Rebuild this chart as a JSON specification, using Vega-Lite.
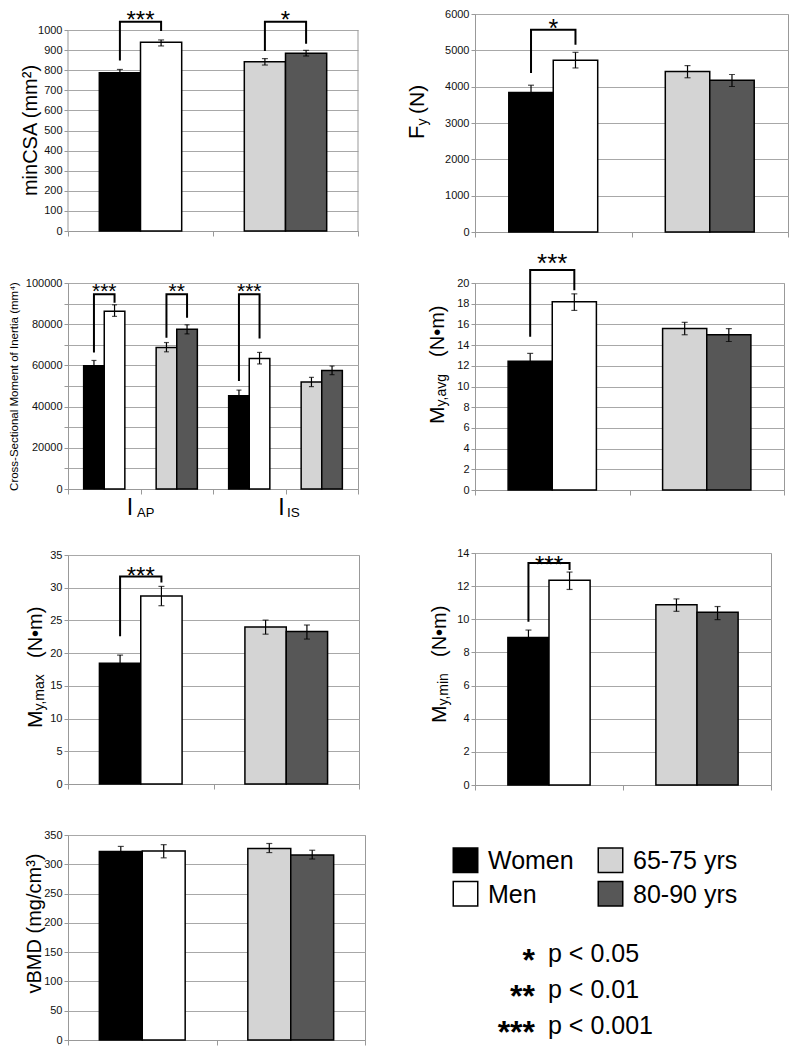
{
  "$schema": "https://vega.github.io/schema/vega-lite/v6.json",
  "padding": {"left": 7, "top": 7, "right": 0, "bottom": 0},
  "config": {
    "font": "Liberation Sans",
    "numberFormat": "d",
    "view": {"stroke": "#999999", "strokeWidth": 1},
    "axisY": {"grid": true, "gridColor": "#a8a8a8", "domainColor": "#999999", "tickColor": "#999999", "tickSize": 4, "tickCount": 30, "labelFontSize": 11, "labelColor": "#111111", "labelPadding": 2, "labelOverlap": false, "titleFontWeight": "normal", "titleColor": "#000000", "labelFont": "Liberation Sans", "titleFont": "Liberation Sans"},
    "axisX": {"labels": false, "ticks": true, "tickBand": "extent", "tickSize": 5, "tickColor": "#999999", "domainColor": "#999999", "grid": false},
    "text": {"font": "Liberation Sans", "color": "#000000"}
  },
  "datasets": {
    "bars": [
      {"panel": "minCSA", "cluster": "Sex", "level": "Women", "mean": 788, "lo": 772, "hi": 804},
      {"panel": "minCSA", "cluster": "Sex", "level": "Men", "mean": 940, "lo": 921, "hi": 951},
      {"panel": "minCSA", "cluster": "Age", "level": "65-75 yrs", "mean": 842, "lo": 826, "hi": 858},
      {"panel": "minCSA", "cluster": "Age", "level": "80-90 yrs", "mean": 885, "lo": 871, "hi": 899},
      {"panel": "Fy", "cluster": "Sex", "level": "Women", "mean": 3840, "lo": 3650, "hi": 4040},
      {"panel": "Fy", "cluster": "Sex", "level": "Men", "mean": 4730, "lo": 4515, "hi": 4945},
      {"panel": "Fy", "cluster": "Age", "level": "65-75 yrs", "mean": 4420, "lo": 4245, "hi": 4580},
      {"panel": "Fy", "cluster": "Age", "level": "80-90 yrs", "mean": 4180, "lo": 4005, "hi": 4335},
      {"panel": "I", "cluster": "IAP-Sex", "level": "Women", "mean": 59800, "lo": 57200, "hi": 62400},
      {"panel": "I", "cluster": "IAP-Sex", "level": "Men", "mean": 86300, "lo": 83800, "hi": 89400},
      {"panel": "I", "cluster": "IAP-Age", "level": "65-75 yrs", "mean": 68700, "lo": 66600, "hi": 71100},
      {"panel": "I", "cluster": "IAP-Age", "level": "80-90 yrs", "mean": 77500, "lo": 75300, "hi": 79700},
      {"panel": "I", "cluster": "IIS-Sex", "level": "Women", "mean": 45300, "lo": 42900, "hi": 48000},
      {"panel": "I", "cluster": "IIS-Sex", "level": "Men", "mean": 63400, "lo": 60700, "hi": 66300},
      {"panel": "I", "cluster": "IIS-Age", "level": "65-75 yrs", "mean": 52000, "lo": 49700, "hi": 54200},
      {"panel": "I", "cluster": "IIS-Age", "level": "80-90 yrs", "mean": 57500, "lo": 55500, "hi": 59700},
      {"panel": "Myavg", "cluster": "Sex", "level": "Women", "mean": 12.45, "lo": 11.7, "hi": 13.2},
      {"panel": "Myavg", "cluster": "Sex", "level": "Men", "mean": 18.2, "lo": 17.35, "hi": 18.95},
      {"panel": "Myavg", "cluster": "Age", "level": "65-75 yrs", "mean": 15.6, "lo": 15.0, "hi": 16.2},
      {"panel": "Myavg", "cluster": "Age", "level": "80-90 yrs", "mean": 15.0, "lo": 14.35, "hi": 15.6},
      {"panel": "Mymax", "cluster": "Sex", "level": "Women", "mean": 18.45, "lo": 17.15, "hi": 19.7},
      {"panel": "Mymax", "cluster": "Sex", "level": "Men", "mean": 28.75, "lo": 27.25, "hi": 30.2},
      {"panel": "Mymax", "cluster": "Age", "level": "65-75 yrs", "mean": 24.0, "lo": 22.9, "hi": 25.05},
      {"panel": "Mymax", "cluster": "Age", "level": "80-90 yrs", "mean": 23.3, "lo": 22.15, "hi": 24.3},
      {"panel": "Mymin", "cluster": "Sex", "level": "Women", "mean": 8.9, "lo": 8.4, "hi": 9.35},
      {"panel": "Mymin", "cluster": "Sex", "level": "Men", "mean": 12.35, "lo": 11.8, "hi": 12.85},
      {"panel": "Mymin", "cluster": "Age", "level": "65-75 yrs", "mean": 10.87, "lo": 10.48, "hi": 11.23},
      {"panel": "Mymin", "cluster": "Age", "level": "80-90 yrs", "mean": 10.42, "lo": 9.98, "hi": 10.77},
      {"panel": "vBMD", "cluster": "Sex", "level": "Women", "mean": 322, "lo": 313, "hi": 330.5},
      {"panel": "vBMD", "cluster": "Sex", "level": "Men", "mean": 322.5, "lo": 311, "hi": 333.5},
      {"panel": "vBMD", "cluster": "Age", "level": "65-75 yrs", "mean": 327, "lo": 320, "hi": 335.5},
      {"panel": "vBMD", "cluster": "Age", "level": "80-90 yrs", "mean": 316, "lo": 309, "hi": 324}
    ],
    "brackets": [
      {"panel": "minCSA", "cluster": "Sex", "level": "Women", "y": 849, "k": 1},
      {"panel": "minCSA", "cluster": "Sex", "level": "Women", "y": 1041, "k": 2},
      {"panel": "minCSA", "cluster": "Sex", "level": "Men", "y": 1041, "k": 3},
      {"panel": "minCSA", "cluster": "Sex", "level": "Men", "y": 995, "k": 4},
      {"panel": "minCSA", "cluster": "Age", "level": "65-75 yrs", "y": 896, "k": 1},
      {"panel": "minCSA", "cluster": "Age", "level": "65-75 yrs", "y": 1041, "k": 2},
      {"panel": "minCSA", "cluster": "Age", "level": "80-90 yrs", "y": 1041, "k": 3},
      {"panel": "minCSA", "cluster": "Age", "level": "80-90 yrs", "y": 932, "k": 4},
      {"panel": "Fy", "cluster": "Sex", "level": "Women", "y": 4378, "k": 1},
      {"panel": "Fy", "cluster": "Sex", "level": "Women", "y": 5569, "k": 2},
      {"panel": "Fy", "cluster": "Sex", "level": "Men", "y": 5569, "k": 3},
      {"panel": "Fy", "cluster": "Sex", "level": "Men", "y": 5157, "k": 4},
      {"panel": "I", "cluster": "IAP-Sex", "level": "Women", "y": 66300, "k": 1},
      {"panel": "I", "cluster": "IAP-Sex", "level": "Women", "y": 94500, "k": 2},
      {"panel": "I", "cluster": "IAP-Sex", "level": "Men", "y": 94500, "k": 3},
      {"panel": "I", "cluster": "IAP-Sex", "level": "Men", "y": 90400, "k": 4},
      {"panel": "I", "cluster": "IAP-Age", "level": "65-75 yrs", "y": 73400, "k": 1},
      {"panel": "I", "cluster": "IAP-Age", "level": "65-75 yrs", "y": 94500, "k": 2},
      {"panel": "I", "cluster": "IAP-Age", "level": "80-90 yrs", "y": 94500, "k": 3},
      {"panel": "I", "cluster": "IAP-Age", "level": "80-90 yrs", "y": 83150, "k": 4},
      {"panel": "I", "cluster": "IIS-Sex", "level": "Women", "y": 52400, "k": 1},
      {"panel": "I", "cluster": "IIS-Sex", "level": "Women", "y": 94500, "k": 2},
      {"panel": "I", "cluster": "IIS-Sex", "level": "Men", "y": 94500, "k": 3},
      {"panel": "I", "cluster": "IIS-Sex", "level": "Men", "y": 73100, "k": 4},
      {"panel": "Myavg", "cluster": "Sex", "level": "Women", "y": 14.8, "k": 1},
      {"panel": "Myavg", "cluster": "Sex", "level": "Women", "y": 21.25, "k": 2},
      {"panel": "Myavg", "cluster": "Sex", "level": "Men", "y": 21.25, "k": 3},
      {"panel": "Myavg", "cluster": "Sex", "level": "Men", "y": 19.3, "k": 4},
      {"panel": "Mymax", "cluster": "Sex", "level": "Women", "y": 22.6, "k": 1},
      {"panel": "Mymax", "cluster": "Sex", "level": "Women", "y": 31.7, "k": 2},
      {"panel": "Mymax", "cluster": "Sex", "level": "Men", "y": 31.7, "k": 3},
      {"panel": "Mymax", "cluster": "Sex", "level": "Men", "y": 30.8, "k": 4},
      {"panel": "Mymin", "cluster": "Sex", "level": "Women", "y": 9.85, "k": 1},
      {"panel": "Mymin", "cluster": "Sex", "level": "Women", "y": 13.4, "k": 2},
      {"panel": "Mymin", "cluster": "Sex", "level": "Men", "y": 13.4, "k": 3},
      {"panel": "Mymin", "cluster": "Sex", "level": "Men", "y": 12.97, "k": 4}
    ],
    "stars": [
      {"panel": "minCSA", "cluster": "Sex", "stars": "***", "y": 1010},
      {"panel": "minCSA", "cluster": "Age", "stars": "*", "y": 1010},
      {"panel": "Fy", "cluster": "Sex", "stars": "*", "y": 5380},
      {"panel": "I", "cluster": "IAP-Sex", "stars": "***", "y": 92700},
      {"panel": "I", "cluster": "IAP-Age", "stars": "**", "y": 92700},
      {"panel": "I", "cluster": "IIS-Sex", "stars": "***", "y": 92700},
      {"panel": "Myavg", "cluster": "Sex", "stars": "***", "y": 21.06},
      {"panel": "Mymax", "cluster": "Sex", "stars": "***", "y": 30.57},
      {"panel": "Mymin", "cluster": "Sex", "stars": "***", "y": 12.79}
    ],
    "legend": [
      {"cluster": "Sex", "level": "Women"},
      {"cluster": "Sex", "level": "Men"},
      {"cluster": "Age", "level": "65-75 yrs"},
      {"cluster": "Age", "level": "80-90 yrs"}
    ],
    "pvals": [
      {"stars": "*", "label": "p < 0.05"},
      {"stars": "**", "label": "p < 0.01"},
      {"stars": "***", "label": "p < 0.001"}
    ]
  },
  "resolve": {"scale": {"xOffset": "independent"}},
  "spacing": 39,
  "hconcat": [
    {
      "spacing": 27,
      "resolve": {"scale": {"xOffset": "independent"}},
      "vconcat": [
        {
          "bounds": "flush",
          "spacing": 52,
          "resolve": {"scale": {"xOffset": "independent"}},
          "vconcat": [
            {
              "width": 290, "height": 217,
              "view": {"stroke": null},
              "layer": [
                {"data": {"name": "bars"}, "transform": [{"filter": "datum.panel === 'minCSA'"}, {"calculate": "datum.level === 'Women' || datum.level === '65-75 yrs' ? 'a' : 'b'", "as": "slot"}],
                 "layer": [
                  {"mark": {"type": "bar", "stroke": "#000", "strokeWidth": 1.5},
                   "encoding": {
                     "x": {"field": "cluster", "type": "nominal", "scale": {"type": "band", "domain": ["Sex", "Age"], "paddingInner": 0, "paddingOuter": 0}, "axis": {"title": null}},
                     "xOffset": {"field": "slot", "type": "nominal", "scale": {"domain": ["a", "b"], "paddingInner": 0, "paddingOuter": 0.76}},
                     "y": {"field": "mean", "type": "quantitative", "scale": {"domain": [0, 1080], "nice": false}, "axis": {"values": [0, 100, 200, 300, 400, 500, 600, 700, 800, 900, 1000], "tickCount": 30, "labelOverlap": false, "domain": false, "title": "minCSA (mm²)", "titleFontSize": 20, "titleBaseline": "alphabetic", "titleX": -32, "titleY": 116}},
                     "fill": {"field": "level", "type": "nominal", "scale": {"domain": ["Women", "Men", "65-75 yrs", "80-90 yrs"], "range": ["#000000", "#ffffff", "#d4d4d4", "#575757"]}, "legend": null}}},
                  {"mark": {"type": "rule", "color": "#000", "strokeWidth": 1.2},
                   "encoding": {"x": {"field": "cluster", "type": "nominal"}, "xOffset": {"field": "slot", "type": "nominal"}, "y": {"field": "lo", "type": "quantitative"}, "y2": {"field": "hi"}}},
                  {"mark": {"type": "tick", "color": "#000", "size": 6, "thickness": 1.2},
                   "encoding": {"x": {"field": "cluster", "type": "nominal"}, "xOffset": {"field": "slot", "type": "nominal"}, "y": {"field": "lo", "type": "quantitative"}}},
                  {"mark": {"type": "tick", "color": "#000", "size": 6, "thickness": 1.2},
                   "encoding": {"x": {"field": "cluster", "type": "nominal"}, "xOffset": {"field": "slot", "type": "nominal"}, "y": {"field": "hi", "type": "quantitative"}}}
                 ]},
                {"data": {"values": [{}]}, "mark": {"type": "rule", "color": "#999999", "strokeWidth": 1},
                 "encoding": {"x": {"datum": "Sex", "bandPosition": 0}, "y": {"datum": 0, "type": "quantitative"}, "y2": {"datum": 1000}}},
                {"data": {"values": [{}]}, "mark": {"type": "rule", "color": "#999999", "strokeWidth": 1},
                 "encoding": {"x": {"datum": "Age", "bandPosition": 1}, "y": {"datum": 0, "type": "quantitative"}, "y2": {"datum": 1000}}},
                {"data": {"name": "brackets"}, "transform": [{"filter": "datum.panel === 'minCSA'"}, {"calculate": "datum.level === 'Women' || datum.level === '65-75 yrs' ? 'a' : 'b'", "as": "slot"}],
                 "mark": {"type": "line", "color": "#000", "strokeWidth": 2},
                 "encoding": {"x": {"field": "cluster", "type": "nominal"}, "xOffset": {"field": "slot", "type": "nominal"}, "y": {"field": "y", "type": "quantitative"}, "detail": {"field": "cluster"}, "order": {"field": "k", "type": "quantitative"}}},
                {"data": {"name": "stars"}, "transform": [{"filter": "datum.panel === 'minCSA'"}],
                 "mark": {"type": "text", "fontSize": 24, "baseline": "alphabetic"},
                 "encoding": {"x": {"field": "cluster", "type": "nominal"}, "y": {"field": "y", "type": "quantitative"}, "text": {"field": "stars"}}}
              ]
            },
            {
              "width": 290, "height": 206,
              "layer": [
                {"data": {"name": "bars"}, "transform": [{"filter": "datum.panel === 'I'"}, {"calculate": "datum.level === 'Women' || datum.level === '65-75 yrs' ? 'a' : 'b'", "as": "slot"}],
                 "layer": [
                  {"mark": {"type": "bar", "stroke": "#000", "strokeWidth": 1.5},
                   "encoding": {
                     "x": {"field": "cluster", "type": "nominal", "scale": {"type": "band", "domain": ["IAP-Sex", "IAP-Age", "IIS-Sex", "IIS-Age"], "paddingInner": 0, "paddingOuter": 0}, "axis": {"title": null}},
                     "xOffset": {"field": "slot", "type": "nominal", "scale": {"domain": ["a", "b"], "paddingInner": 0, "paddingOuter": 0.76}},
                     "y": {"field": "mean", "type": "quantitative", "scale": {"domain": [0, 100000], "nice": false}, "axis": {"values": [0, 10000, 20000, 30000, 40000, 50000, 60000, 70000, 80000, 90000, 100000], "tickCount": 30, "labelOverlap": false, "labelExpr": "datum.value % 20000 === 0 ? datum.label : ''", "title": "Cross-Sectional Moment of Inertia (mm⁴)", "titleFontSize": 11.5, "titleBaseline": "alphabetic", "titleX": -51}},
                     "fill": {"field": "level", "type": "nominal", "scale": {"domain": ["Women", "Men", "65-75 yrs", "80-90 yrs"], "range": ["#000000", "#ffffff", "#d4d4d4", "#575757"]}, "legend": null}}},
                  {"mark": {"type": "rule", "color": "#000", "strokeWidth": 1.2},
                   "encoding": {"x": {"field": "cluster", "type": "nominal"}, "xOffset": {"field": "slot", "type": "nominal"}, "y": {"field": "lo", "type": "quantitative"}, "y2": {"field": "hi"}}},
                  {"mark": {"type": "tick", "color": "#000", "size": 5, "thickness": 1.2},
                   "encoding": {"x": {"field": "cluster", "type": "nominal"}, "xOffset": {"field": "slot", "type": "nominal"}, "y": {"field": "lo", "type": "quantitative"}}},
                  {"mark": {"type": "tick", "color": "#000", "size": 5, "thickness": 1.2},
                   "encoding": {"x": {"field": "cluster", "type": "nominal"}, "xOffset": {"field": "slot", "type": "nominal"}, "y": {"field": "hi", "type": "quantitative"}}}
                 ]},
                {"data": {"name": "brackets"}, "transform": [{"filter": "datum.panel === 'I'"}, {"calculate": "datum.level === 'Women' || datum.level === '65-75 yrs' ? 'a' : 'b'", "as": "slot"}],
                 "mark": {"type": "line", "color": "#000", "strokeWidth": 2},
                 "encoding": {"x": {"field": "cluster", "type": "nominal"}, "xOffset": {"field": "slot", "type": "nominal"}, "y": {"field": "y", "type": "quantitative"}, "detail": {"field": "cluster"}, "order": {"field": "k", "type": "quantitative"}}},
                {"data": {"name": "stars"}, "transform": [{"filter": "datum.panel === 'I'"}],
                 "mark": {"type": "text", "fontSize": 21, "baseline": "alphabetic"},
                 "encoding": {"x": {"field": "cluster", "type": "nominal"}, "y": {"field": "y", "type": "quantitative"}, "text": {"field": "stars"}}},
                {"data": {"values": [{}]}, "mark": {"type": "text", "text": "I", "fontSize": 23, "align": "center", "baseline": "alphabetic", "dx": -10.5, "dy": 26},
                 "encoding": {"x": {"datum": "IAP-Age", "bandPosition": 0}, "y": {"datum": 0, "type": "quantitative"}}},
                {"data": {"values": [{}]}, "mark": {"type": "text", "text": "AP", "fontSize": 13, "align": "left", "baseline": "alphabetic", "dx": -3.5, "dy": 28},
                 "encoding": {"x": {"datum": "IAP-Age", "bandPosition": 0}, "y": {"datum": 0, "type": "quantitative"}}},
                {"data": {"values": [{}]}, "mark": {"type": "text", "text": "I", "fontSize": 23, "align": "center", "baseline": "alphabetic", "dx": -4, "dy": 26},
                 "encoding": {"x": {"datum": "IIS-Age", "bandPosition": 0}, "y": {"datum": 0, "type": "quantitative"}}},
                {"data": {"values": [{}]}, "mark": {"type": "text", "text": "IS", "fontSize": 13.5, "align": "left", "baseline": "alphabetic", "dx": 1.5, "dy": 28},
                 "encoding": {"x": {"datum": "IIS-Age", "bandPosition": 0}, "y": {"datum": 0, "type": "quantitative"}}}
              ]
            }
          ]
        },
        {
          "bounds": "flush",
          "spacing": 51,
          "resolve": {"scale": {"xOffset": "independent"}},
          "vconcat": [
            {
              "width": 291, "height": 229,
              "layer": [
                {"data": {"name": "bars"}, "transform": [{"filter": "datum.panel === 'Mymax'"}, {"calculate": "datum.level === 'Women' || datum.level === '65-75 yrs' ? 'a' : 'b'", "as": "slot"}],
                 "layer": [
                  {"mark": {"type": "bar", "stroke": "#000", "strokeWidth": 1.5},
                   "encoding": {
                     "x": {"field": "cluster", "type": "nominal", "scale": {"type": "band", "domain": ["Sex", "Age"], "paddingInner": 0, "paddingOuter": 0}, "axis": {"title": null}},
                     "xOffset": {"field": "slot", "type": "nominal", "scale": {"domain": ["a", "b"], "paddingInner": 0, "paddingOuter": 0.76}},
                     "y": {"field": "mean", "type": "quantitative", "scale": {"domain": [0, 35], "nice": false}, "axis": {"values": [0, 5, 10, 15, 20, 25, 30, 35], "tickCount": 30, "labelOverlap": false, "title": null}},
                     "fill": {"field": "level", "type": "nominal", "scale": {"domain": ["Women", "Men", "65-75 yrs", "80-90 yrs"], "range": ["#000000", "#ffffff", "#d4d4d4", "#575757"]}, "legend": null}}},
                  {"mark": {"type": "rule", "color": "#000", "strokeWidth": 1.2},
                   "encoding": {"x": {"field": "cluster", "type": "nominal"}, "xOffset": {"field": "slot", "type": "nominal"}, "y": {"field": "lo", "type": "quantitative"}, "y2": {"field": "hi"}}},
                  {"mark": {"type": "tick", "color": "#000", "size": 6, "thickness": 1.2},
                   "encoding": {"x": {"field": "cluster", "type": "nominal"}, "xOffset": {"field": "slot", "type": "nominal"}, "y": {"field": "lo", "type": "quantitative"}}},
                  {"mark": {"type": "tick", "color": "#000", "size": 6, "thickness": 1.2},
                   "encoding": {"x": {"field": "cluster", "type": "nominal"}, "xOffset": {"field": "slot", "type": "nominal"}, "y": {"field": "hi", "type": "quantitative"}}}
                 ]},
                {"data": {"name": "brackets"}, "transform": [{"filter": "datum.panel === 'Mymax'"}, {"calculate": "datum.level === 'Women' || datum.level === '65-75 yrs' ? 'a' : 'b'", "as": "slot"}],
                 "mark": {"type": "line", "color": "#000", "strokeWidth": 2},
                 "encoding": {"x": {"field": "cluster", "type": "nominal"}, "xOffset": {"field": "slot", "type": "nominal"}, "y": {"field": "y", "type": "quantitative"}, "detail": {"field": "cluster"}, "order": {"field": "k", "type": "quantitative"}}},
                {"data": {"name": "stars"}, "transform": [{"filter": "datum.panel === 'Mymax'"}],
                 "mark": {"type": "text", "fontSize": 24, "baseline": "alphabetic"},
                 "encoding": {"x": {"field": "cluster", "type": "nominal"}, "y": {"field": "y", "type": "quantitative"}, "text": {"field": "stars"}}},
                {"data": {"values": [{}]}, "mark": {"type": "text", "text": "M", "angle": 270, "fontSize": 21, "align": "left", "baseline": "alphabetic", "dx": 0, "dy": -26},
                 "encoding": {"x": {"datum": "Sex", "bandPosition": 0}, "y": {"datum": 8.56, "type": "quantitative"}}},
                {"data": {"values": [{}]}, "mark": {"type": "text", "text": "y,max", "angle": 270, "fontSize": 14, "align": "left", "baseline": "alphabetic", "dx": 17.5, "dy": -24},
                 "encoding": {"x": {"datum": "Sex", "bandPosition": 0}, "y": {"datum": 8.56, "type": "quantitative"}}},
                {"data": {"values": [{}]}, "mark": {"type": "text", "text": "(N•m)", "angle": 270, "fontSize": 20, "align": "left", "baseline": "alphabetic", "dx": 70, "dy": -26},
                 "encoding": {"x": {"datum": "Sex", "bandPosition": 0}, "y": {"datum": 8.56, "type": "quantitative"}}}
              ]
            },
            {
              "width": 297, "height": 205,
              "layer": [
                {"data": {"name": "bars"}, "transform": [{"filter": "datum.panel === 'vBMD'"}, {"calculate": "datum.level === 'Women' || datum.level === '65-75 yrs' ? 'a' : 'b'", "as": "slot"}],
                 "layer": [
                  {"mark": {"type": "bar", "stroke": "#000", "strokeWidth": 1.5},
                   "encoding": {
                     "x": {"field": "cluster", "type": "nominal", "scale": {"type": "band", "domain": ["Sex", "Age"], "paddingInner": 0, "paddingOuter": 0}, "axis": {"title": null}},
                     "xOffset": {"field": "slot", "type": "nominal", "scale": {"domain": ["a", "b"], "paddingInner": 0, "paddingOuter": 0.73}},
                     "y": {"field": "mean", "type": "quantitative", "scale": {"domain": [0, 350], "nice": false}, "axis": {"values": [0, 50, 100, 150, 200, 250, 300, 350], "tickCount": 30, "labelOverlap": false, "title": "vBMD (mg/cm³)", "titleFontSize": 20, "titleBaseline": "alphabetic", "titleX": -28, "titleY": 88}},
                     "fill": {"field": "level", "type": "nominal", "scale": {"domain": ["Women", "Men", "65-75 yrs", "80-90 yrs"], "range": ["#000000", "#ffffff", "#d4d4d4", "#575757"]}, "legend": null}}},
                  {"mark": {"type": "rule", "color": "#000", "strokeWidth": 1.2},
                   "encoding": {"x": {"field": "cluster", "type": "nominal"}, "xOffset": {"field": "slot", "type": "nominal"}, "y": {"field": "lo", "type": "quantitative"}, "y2": {"field": "hi"}}},
                  {"mark": {"type": "tick", "color": "#000", "size": 6, "thickness": 1.2},
                   "encoding": {"x": {"field": "cluster", "type": "nominal"}, "xOffset": {"field": "slot", "type": "nominal"}, "y": {"field": "lo", "type": "quantitative"}}},
                  {"mark": {"type": "tick", "color": "#000", "size": 6, "thickness": 1.2},
                   "encoding": {"x": {"field": "cluster", "type": "nominal"}, "xOffset": {"field": "slot", "type": "nominal"}, "y": {"field": "hi", "type": "quantitative"}}}
                 ]}
              ]
            }
          ]
        }
      ]
    },
    {
      "spacing": 50,
      "resolve": {"scale": {"xOffset": "independent"}},
      "vconcat": [
        {
          "bounds": "flush",
          "spacing": 51,
          "resolve": {"scale": {"xOffset": "independent"}},
          "vconcat": [
            {
              "width": 313, "height": 218,
              "layer": [
                {"data": {"name": "bars"}, "transform": [{"filter": "datum.panel === 'Fy'"}, {"calculate": "datum.level === 'Women' || datum.level === '65-75 yrs' ? 'a' : 'b'", "as": "slot"}],
                 "layer": [
                  {"mark": {"type": "bar", "stroke": "#000", "strokeWidth": 1.5},
                   "encoding": {
                     "x": {"field": "cluster", "type": "nominal", "scale": {"type": "band", "domain": ["Sex", "Age"], "paddingInner": 0, "paddingOuter": 0}, "axis": {"title": null}},
                     "xOffset": {"field": "slot", "type": "nominal", "scale": {"domain": ["a", "b"], "paddingInner": 0, "paddingOuter": 0.76}},
                     "y": {"field": "mean", "type": "quantitative", "scale": {"domain": [0, 6000], "nice": false}, "axis": {"values": [0, 1000, 2000, 3000, 4000, 5000, 6000], "tickCount": 30, "labelOverlap": false, "title": null}},
                     "fill": {"field": "level", "type": "nominal", "scale": {"domain": ["Women", "Men", "65-75 yrs", "80-90 yrs"], "range": ["#000000", "#ffffff", "#d4d4d4", "#575757"]}, "legend": null}}},
                  {"mark": {"type": "rule", "color": "#000", "strokeWidth": 1.2},
                   "encoding": {"x": {"field": "cluster", "type": "nominal"}, "xOffset": {"field": "slot", "type": "nominal"}, "y": {"field": "lo", "type": "quantitative"}, "y2": {"field": "hi"}}},
                  {"mark": {"type": "tick", "color": "#000", "size": 6, "thickness": 1.2},
                   "encoding": {"x": {"field": "cluster", "type": "nominal"}, "xOffset": {"field": "slot", "type": "nominal"}, "y": {"field": "lo", "type": "quantitative"}}},
                  {"mark": {"type": "tick", "color": "#000", "size": 6, "thickness": 1.2},
                   "encoding": {"x": {"field": "cluster", "type": "nominal"}, "xOffset": {"field": "slot", "type": "nominal"}, "y": {"field": "hi", "type": "quantitative"}}}
                 ]},
                {"data": {"name": "brackets"}, "transform": [{"filter": "datum.panel === 'Fy'"}, {"calculate": "datum.level === 'Women' || datum.level === '65-75 yrs' ? 'a' : 'b'", "as": "slot"}],
                 "mark": {"type": "line", "color": "#000", "strokeWidth": 2},
                 "encoding": {"x": {"field": "cluster", "type": "nominal"}, "xOffset": {"field": "slot", "type": "nominal"}, "y": {"field": "y", "type": "quantitative"}, "detail": {"field": "cluster"}, "order": {"field": "k", "type": "quantitative"}}},
                {"data": {"name": "stars"}, "transform": [{"filter": "datum.panel === 'Fy'"}],
                 "mark": {"type": "text", "fontSize": 25, "baseline": "alphabetic"},
                 "encoding": {"x": {"field": "cluster", "type": "nominal"}, "y": {"field": "y", "type": "quantitative"}, "text": {"field": "stars"}}},
                {"data": {"values": [{}]}, "mark": {"type": "text", "text": "F", "angle": 270, "fontSize": 22, "align": "left", "baseline": "alphabetic", "dx": 0, "dy": -51},
                 "encoding": {"x": {"datum": "Sex", "bandPosition": 0}, "y": {"datum": 2560, "type": "quantitative"}}},
                {"data": {"values": [{}]}, "mark": {"type": "text", "text": "y", "angle": 270, "fontSize": 14, "align": "left", "baseline": "alphabetic", "dx": 13.5, "dy": -48},
                 "encoding": {"x": {"datum": "Sex", "bandPosition": 0}, "y": {"datum": 2560, "type": "quantitative"}}},
                {"data": {"values": [{}]}, "mark": {"type": "text", "text": "(N)", "angle": 270, "fontSize": 21, "align": "left", "baseline": "alphabetic", "dx": 25, "dy": -51},
                 "encoding": {"x": {"datum": "Sex", "bandPosition": 0}, "y": {"datum": 2560, "type": "quantitative"}}}
              ]
            },
            {
              "width": 309, "height": 207,
              "layer": [
                {"data": {"name": "bars"}, "transform": [{"filter": "datum.panel === 'Myavg'"}, {"calculate": "datum.level === 'Women' || datum.level === '65-75 yrs' ? 'a' : 'b'", "as": "slot"}],
                 "layer": [
                  {"mark": {"type": "bar", "stroke": "#000", "strokeWidth": 1.5},
                   "encoding": {
                     "x": {"field": "cluster", "type": "nominal", "scale": {"type": "band", "domain": ["Sex", "Age"], "paddingInner": 0, "paddingOuter": 0}, "axis": {"title": null}},
                     "xOffset": {"field": "slot", "type": "nominal", "scale": {"domain": ["a", "b"], "paddingInner": 0, "paddingOuter": 0.75}},
                     "y": {"field": "mean", "type": "quantitative", "scale": {"domain": [0, 20], "nice": false}, "axis": {"values": [0, 2, 4, 6, 8, 10, 12, 14, 16, 18, 20], "tickCount": 30, "labelOverlap": false, "title": null}},
                     "fill": {"field": "level", "type": "nominal", "scale": {"domain": ["Women", "Men", "65-75 yrs", "80-90 yrs"], "range": ["#000000", "#ffffff", "#d4d4d4", "#575757"]}, "legend": null}}},
                  {"mark": {"type": "rule", "color": "#000", "strokeWidth": 1.2},
                   "encoding": {"x": {"field": "cluster", "type": "nominal"}, "xOffset": {"field": "slot", "type": "nominal"}, "y": {"field": "lo", "type": "quantitative"}, "y2": {"field": "hi"}}},
                  {"mark": {"type": "tick", "color": "#000", "size": 6, "thickness": 1.2},
                   "encoding": {"x": {"field": "cluster", "type": "nominal"}, "xOffset": {"field": "slot", "type": "nominal"}, "y": {"field": "lo", "type": "quantitative"}}},
                  {"mark": {"type": "tick", "color": "#000", "size": 6, "thickness": 1.2},
                   "encoding": {"x": {"field": "cluster", "type": "nominal"}, "xOffset": {"field": "slot", "type": "nominal"}, "y": {"field": "hi", "type": "quantitative"}}}
                 ]},
                {"data": {"name": "brackets"}, "transform": [{"filter": "datum.panel === 'Myavg'"}, {"calculate": "datum.level === 'Women' || datum.level === '65-75 yrs' ? 'a' : 'b'", "as": "slot"}],
                 "mark": {"type": "line", "color": "#000", "strokeWidth": 2},
                 "encoding": {"x": {"field": "cluster", "type": "nominal"}, "xOffset": {"field": "slot", "type": "nominal"}, "y": {"field": "y", "type": "quantitative"}, "detail": {"field": "cluster"}, "order": {"field": "k", "type": "quantitative"}}},
                {"data": {"name": "stars"}, "transform": [{"filter": "datum.panel === 'Myavg'"}],
                 "mark": {"type": "text", "fontSize": 26, "baseline": "alphabetic"},
                 "encoding": {"x": {"field": "cluster", "type": "nominal"}, "y": {"field": "y", "type": "quantitative"}, "text": {"field": "stars"}}},
                {"data": {"values": [{}]}, "mark": {"type": "text", "text": "M", "angle": 270, "fontSize": 21, "align": "left", "baseline": "alphabetic", "dx": 0, "dy": -31},
                 "encoding": {"x": {"datum": "Sex", "bandPosition": 0}, "y": {"datum": 6.38, "type": "quantitative"}}},
                {"data": {"values": [{}]}, "mark": {"type": "text", "text": "y,avg", "angle": 270, "fontSize": 14, "align": "left", "baseline": "alphabetic", "dx": 17.5, "dy": -29},
                 "encoding": {"x": {"datum": "Sex", "bandPosition": 0}, "y": {"datum": 6.38, "type": "quantitative"}}},
                {"data": {"values": [{}]}, "mark": {"type": "text", "text": "(N•m)", "angle": 270, "fontSize": 20, "align": "left", "baseline": "alphabetic", "dx": 67, "dy": -31},
                 "encoding": {"x": {"datum": "Sex", "bandPosition": 0}, "y": {"datum": 6.38, "type": "quantitative"}}}
              ]
            }
          ]
        },
        {
          "bounds": "flush",
          "spacing": 58,
          "resolve": {"scale": {"xOffset": "independent"}},
          "vconcat": [
            {
              "width": 296, "height": 232,
              "layer": [
                {"data": {"name": "bars"}, "transform": [{"filter": "datum.panel === 'Mymin'"}, {"calculate": "datum.level === 'Women' || datum.level === '65-75 yrs' ? 'a' : 'b'", "as": "slot"}],
                 "layer": [
                  {"mark": {"type": "bar", "stroke": "#000", "strokeWidth": 1.5},
                   "encoding": {
                     "x": {"field": "cluster", "type": "nominal", "scale": {"type": "band", "domain": ["Sex", "Age"], "paddingInner": 0, "paddingOuter": 0}, "axis": {"title": null}},
                     "xOffset": {"field": "slot", "type": "nominal", "scale": {"domain": ["a", "b"], "paddingInner": 0, "paddingOuter": 0.8}},
                     "y": {"field": "mean", "type": "quantitative", "scale": {"domain": [0, 14], "nice": false}, "axis": {"values": [0, 2, 4, 6, 8, 10, 12, 14], "tickCount": 30, "labelOverlap": false, "title": null}},
                     "fill": {"field": "level", "type": "nominal", "scale": {"domain": ["Women", "Men", "65-75 yrs", "80-90 yrs"], "range": ["#000000", "#ffffff", "#d4d4d4", "#575757"]}, "legend": null}}},
                  {"mark": {"type": "rule", "color": "#000", "strokeWidth": 1.2},
                   "encoding": {"x": {"field": "cluster", "type": "nominal"}, "xOffset": {"field": "slot", "type": "nominal"}, "y": {"field": "lo", "type": "quantitative"}, "y2": {"field": "hi"}}},
                  {"mark": {"type": "tick", "color": "#000", "size": 6, "thickness": 1.2},
                   "encoding": {"x": {"field": "cluster", "type": "nominal"}, "xOffset": {"field": "slot", "type": "nominal"}, "y": {"field": "lo", "type": "quantitative"}}},
                  {"mark": {"type": "tick", "color": "#000", "size": 6, "thickness": 1.2},
                   "encoding": {"x": {"field": "cluster", "type": "nominal"}, "xOffset": {"field": "slot", "type": "nominal"}, "y": {"field": "hi", "type": "quantitative"}}}
                 ]},
                {"data": {"name": "brackets"}, "transform": [{"filter": "datum.panel === 'Mymin'"}, {"calculate": "datum.level === 'Women' || datum.level === '65-75 yrs' ? 'a' : 'b'", "as": "slot"}],
                 "mark": {"type": "line", "color": "#000", "strokeWidth": 2},
                 "encoding": {"x": {"field": "cluster", "type": "nominal"}, "xOffset": {"field": "slot", "type": "nominal"}, "y": {"field": "y", "type": "quantitative"}, "detail": {"field": "cluster"}, "order": {"field": "k", "type": "quantitative"}}},
                {"data": {"name": "stars"}, "transform": [{"filter": "datum.panel === 'Mymin'"}],
                 "mark": {"type": "text", "fontSize": 24, "baseline": "alphabetic"},
                 "encoding": {"x": {"field": "cluster", "type": "nominal"}, "y": {"field": "y", "type": "quantitative"}, "text": {"field": "stars"}}},
                {"data": {"values": [{}]}, "mark": {"type": "text", "text": "M", "angle": 270, "fontSize": 21, "align": "left", "baseline": "alphabetic", "dx": 0, "dy": -29},
                 "encoding": {"x": {"datum": "Sex", "bandPosition": 0}, "y": {"datum": 3.74, "type": "quantitative"}}},
                {"data": {"values": [{}]}, "mark": {"type": "text", "text": "y,min", "angle": 270, "fontSize": 14, "align": "left", "baseline": "alphabetic", "dx": 17.5, "dy": -27},
                 "encoding": {"x": {"datum": "Sex", "bandPosition": 0}, "y": {"datum": 3.74, "type": "quantitative"}}},
                {"data": {"values": [{}]}, "mark": {"type": "text", "text": "(N•m)", "angle": 270, "fontSize": 20, "align": "left", "baseline": "alphabetic", "dx": 66, "dy": -29},
                 "encoding": {"x": {"datum": "Sex", "bandPosition": 0}, "y": {"datum": 3.74, "type": "quantitative"}}}
              ]
            },
            {
              "width": 145, "height": 202,
              "view": {"stroke": null},
              "resolve": {"scale": {"y": "independent"}},
              "layer": [
                {"data": {"name": "legend"}, "transform": [{"calculate": "datum.level === 'Women' || datum.level === '65-75 yrs' ? 'a' : 'b'", "as": "slot"}],
                 "layer": [
                  {"mark": {"type": "point", "shape": "square", "size": 600, "filled": true, "stroke": "#000", "strokeWidth": 1.5, "opacity": 1, "xOffset": -9.5},
                   "encoding": {
                     "x": {"field": "cluster", "type": "nominal", "scale": {"type": "point", "domain": ["Sex", "key", "Age"], "padding": 0}, "axis": null},
                     "y": {"field": "slot", "type": "nominal", "scale": {"type": "point", "domain": ["a", "b", "_1", "_2", "_3", "_4"], "padding": 0.515, "align": 0.5}, "axis": null},
                     "fill": {"field": "level", "type": "nominal", "scale": {"domain": ["Women", "Men", "65-75 yrs", "80-90 yrs"], "range": ["#000000", "#ffffff", "#d4d4d4", "#575757"]}, "legend": null}}},
                  {"mark": {"type": "text", "align": "left", "baseline": "middle", "fontSize": 25, "dx": 13, "dy": 1},
                   "encoding": {"x": {"field": "cluster", "type": "nominal"}, "y": {"field": "slot", "type": "nominal"}, "text": {"field": "level"}}}
                 ]},
                {"data": {"name": "pvals"},
                 "layer": [
                  {"mark": {"type": "text", "align": "left", "baseline": "middle", "fontSize": 25, "dx": 0.5, "dy": 1},
                   "encoding": {"x": {"datum": "key"}, "y": {"field": "label", "type": "nominal", "scale": {"type": "point", "domain": ["_1", "_2", "p < 0.05", "p < 0.01", "p < 0.001"], "padding": 0.806, "align": 0.655}, "axis": null}, "text": {"field": "label"}}},
                  {"mark": {"type": "text", "align": "right", "baseline": "middle", "fontSize": 32, "fontWeight": "bold", "dx": -12.5, "dy": 8},
                   "encoding": {"x": {"datum": "key"}, "y": {"field": "label", "type": "nominal"}, "text": {"field": "stars"}}}
                 ]}
              ]
            }
          ]
        }
      ]
    }
  ]
}
